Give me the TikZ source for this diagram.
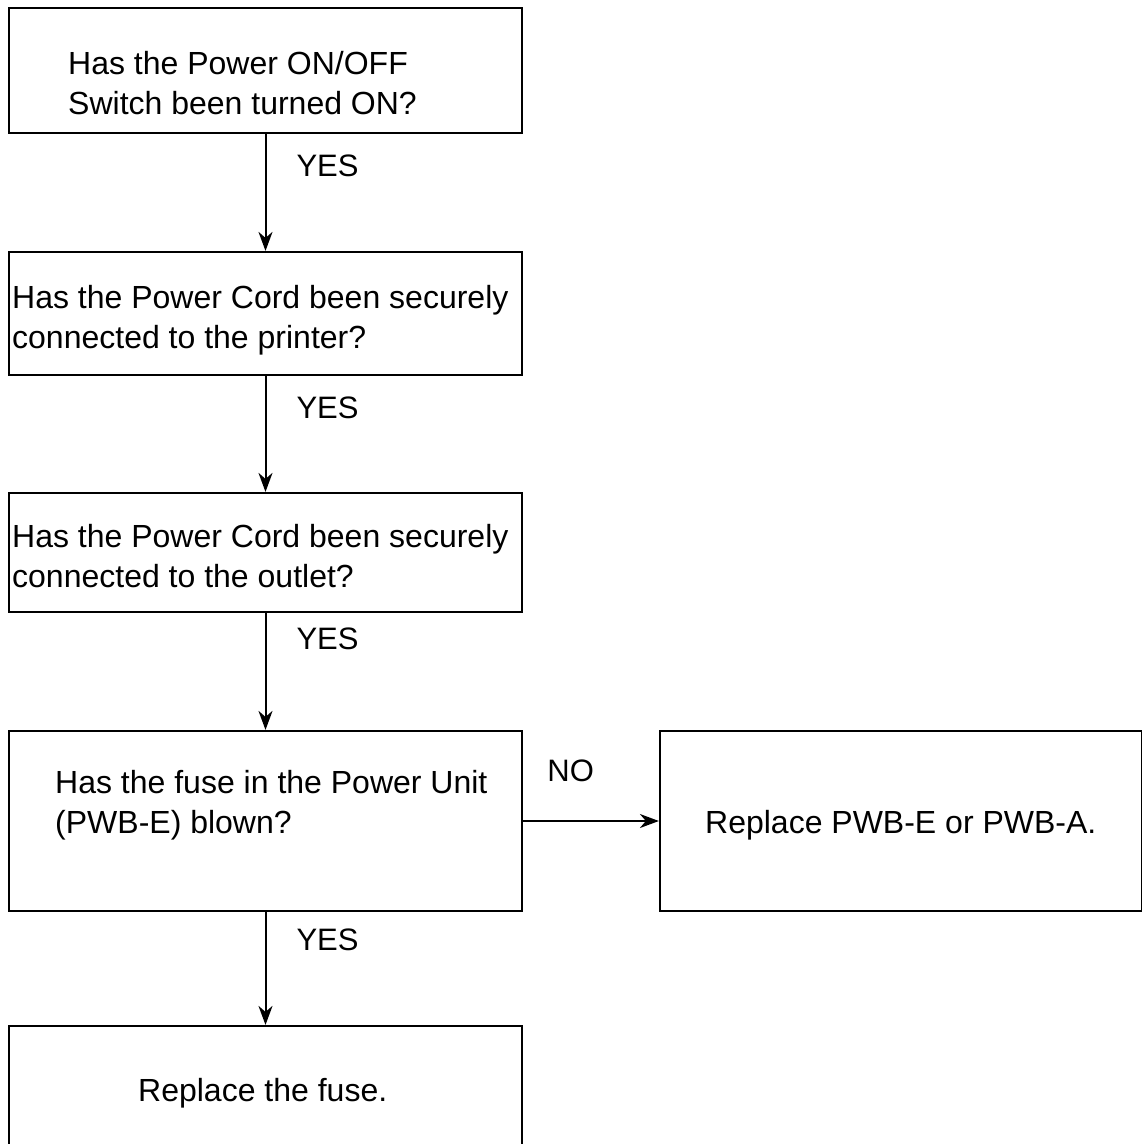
\documentclass[tikz,border=0pt]{standalone}
\usepackage{fontspec}
\setmainfont{Liberation Sans}
\usetikzlibrary{arrows.meta}

\begin{document}
\begin{tikzpicture}[x=1pt,y=-1pt,
    box/.style={draw,line width=2.2pt,inner sep=0pt},
    txt/.style={anchor=base west,inner sep=0pt,align=left,font=\fontsize{32}{40}\selectfont},
    flow/.style={-{Stealth[length=19pt,width=14pt,inset=6pt]},line width=2pt},
    yes/.style={anchor=west,inner sep=0pt,xshift=30pt,font=\fontsize{31}{40}\selectfont},
    no/.style={inner sep=0pt,yshift=50pt,font=\fontsize{31}{40}\selectfont}]
  \useasboundingbox (0,0) rectangle (1142,1144);
  \clip (0,0) rectangle (1142,1144);

  % question and action boxes
  \node[box,minimum width=513pt,minimum height=125pt] (q1) at (265.5,70.5) {};
  \node[box,minimum width=513pt,minimum height=123pt] (q2) at (265.5,313.5) {};
  \node[box,minimum width=513pt,minimum height=119pt] (q3) at (265.5,552.5) {};
  \node[box,minimum width=513pt,minimum height=180pt] (q4) at (265.5,821) {};
  \node[box,minimum width=482pt,minimum height=180pt] (pwb) at (901,821) {};
  \node[box,minimum width=513pt,minimum height=180pt] (fuse) at (265.5,1116) {};

  % texts (base = last line)
  \node[txt] (t1) at (68,114) {Has the Power ON/OFF\\Switch been turned ON?};
  \node[txt] (t2) at (12,348) {Has the Power Cord been securely\\connected to the printer?};
  \node[txt] (t3) at (12,587) {Has the Power Cord been securely\\connected to the outlet?};
  \node[txt] (t4) at (55,833) {Has the fuse in the Power Unit\\(PWB-E) blown?};
  \node[txt] (t5) at (705,833) {Replace PWB-E or PWB-A.};
  \node[txt] (t6) at (138,1101) {Replace the fuse.};

  \path[flow] (q1) edge node[yes,pos=0.27] {YES} (q2)
              (q2) edge node[yes,pos=0.27] {YES} (q3)
              (q3) edge node[yes,pos=0.22] {YES} (q4)
              (q4) edge node[yes,pos=0.25] {YES} (fuse);

  \path[flow] (q4) edge node[no,pos=0.35] {NO} (pwb);
\end{tikzpicture}
\end{document}
